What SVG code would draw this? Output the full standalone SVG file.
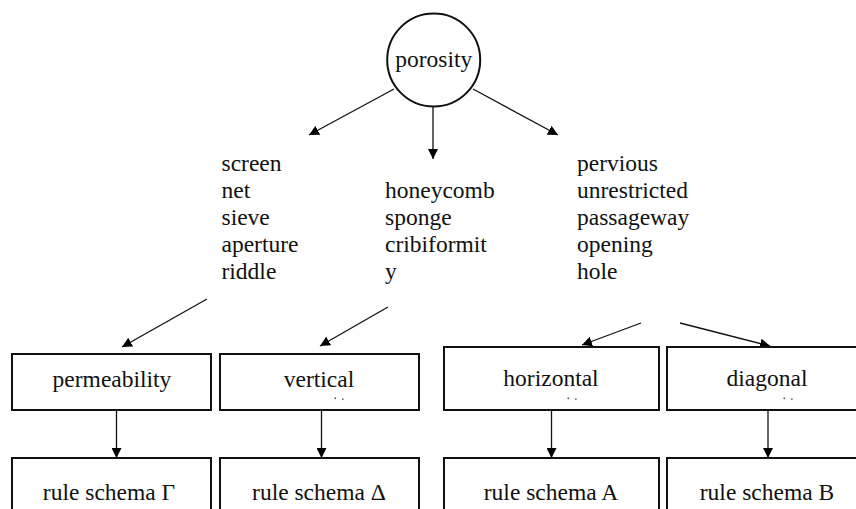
<svg xmlns="http://www.w3.org/2000/svg" width="856" height="509" viewBox="0 0 856 509">
<defs>
<marker id="ah" viewBox="0 0 10 10" refX="10" refY="5" markerWidth="10" markerHeight="10" markerUnits="userSpaceOnUse" orient="auto">
<path d="M0,0 L10,5 L0,10 z" fill="#000"/>
</marker>
<style>
.t{font-family:"Liberation Serif","Times New Roman",Tinos,"Noto Serif","DejaVu Serif",serif;font-size:23.5px;fill:#111}
.c{text-anchor:middle}
.box{fill:#fff;stroke:#111;stroke-width:2}
.ln{stroke:#111;stroke-width:1.3;fill:none;marker-end:url(#ah)}
.dot{fill:#555}
</style>
</defs>
<rect width="856" height="509" fill="#fff"/>
<g id="connectors">
<line class="ln" x1="394" y1="89" x2="309" y2="135"/>
<line class="ln" x1="433" y1="107" x2="433" y2="159"/>
<line class="ln" x1="473" y1="89" x2="558" y2="135"/>
<line class="ln" x1="207" y1="299" x2="122" y2="347"/>
<line class="ln" x1="388" y1="307" x2="320" y2="346"/>
<line class="ln" x1="641" y1="323" x2="582" y2="345"/>
<line class="ln" x1="680" y1="323" x2="770" y2="346"/>
<line class="ln" x1="116.5" y1="410" x2="116.5" y2="458"/>
<line class="ln" x1="321.5" y1="410" x2="321.5" y2="458"/>
<line class="ln" x1="551.5" y1="410" x2="551.5" y2="458"/>
<line class="ln" x1="768" y1="410" x2="768" y2="458"/>
</g>
<g class="t">
<g id="porosity">
<circle cx="433.7" cy="60" r="46.5" fill="#fff" stroke="#111" stroke-width="2"/>
<text class="c" x="433.7" y="67">porosity</text>
</g>
<g id="list-left">
<text x="221.5" y="170.5">screen</text>
<text x="221.5" y="197.5">net</text>
<text x="221.5" y="224.5">sieve</text>
<text x="221.5" y="251.5">aperture</text>
<text x="221.5" y="278.5">riddle</text>
</g>
<g id="list-middle">
<text x="385" y="197.5">honeycomb</text>
<text x="385" y="224.5">sponge</text>
<text x="385" y="251.5">cribiformit</text>
<text x="385" y="278.5">y</text>
</g>
<g id="list-right">
<text x="577" y="171">pervious</text>
<text x="577" y="198">unrestricted</text>
<text x="577" y="225">passageway</text>
<text x="577" y="252">opening</text>
<text x="577" y="279">hole</text>
</g>
<g id="permeability">
<rect class="box" x="12" y="354" width="199" height="56"/>
<text class="c" x="112" y="387">permeability</text>
</g>
<g id="vertical">
<rect class="box" x="220" y="354" width="199" height="56"/>
<text class="c" x="319" y="387">vertical</text>
<rect class="dot" x="334.5" y="397.5" width="1.6" height="1.6"/>
<rect class="dot" x="342" y="398.5" width="1.6" height="1.3"/>
</g>
<g id="horizontal">
<rect class="box" x="444" y="347" width="215" height="63"/>
<text class="c" x="551" y="386">horizontal</text>
<rect class="dot" x="567.5" y="397.5" width="1.6" height="1.6"/>
<rect class="dot" x="575" y="398.5" width="1.6" height="1.3"/>
</g>
<g id="diagonal">
<rect class="box" x="667" y="347" width="200" height="63"/>
<text class="c" x="767" y="386">diagonal</text>
<rect class="dot" x="783.5" y="397.5" width="1.6" height="1.6"/>
<rect class="dot" x="791" y="398.5" width="1.6" height="1.3"/>
</g>
<g id="schema-gamma">
<rect class="box" x="12" y="458" width="199" height="60"/>
<text class="c" x="109" y="500">rule schema Γ</text>
</g>
<g id="schema-delta">
<rect class="box" x="220" y="458" width="199" height="60"/>
<text class="c" x="319" y="500">rule schema Δ</text>
</g>
<g id="schema-a">
<rect class="box" x="444" y="458" width="215" height="60"/>
<text class="c" x="551" y="500">rule schema A</text>
</g>
<g id="schema-b">
<rect class="box" x="667" y="458" width="200" height="60"/>
<text class="c" x="767" y="500">rule schema B</text>
</g>
</g>
</svg>
